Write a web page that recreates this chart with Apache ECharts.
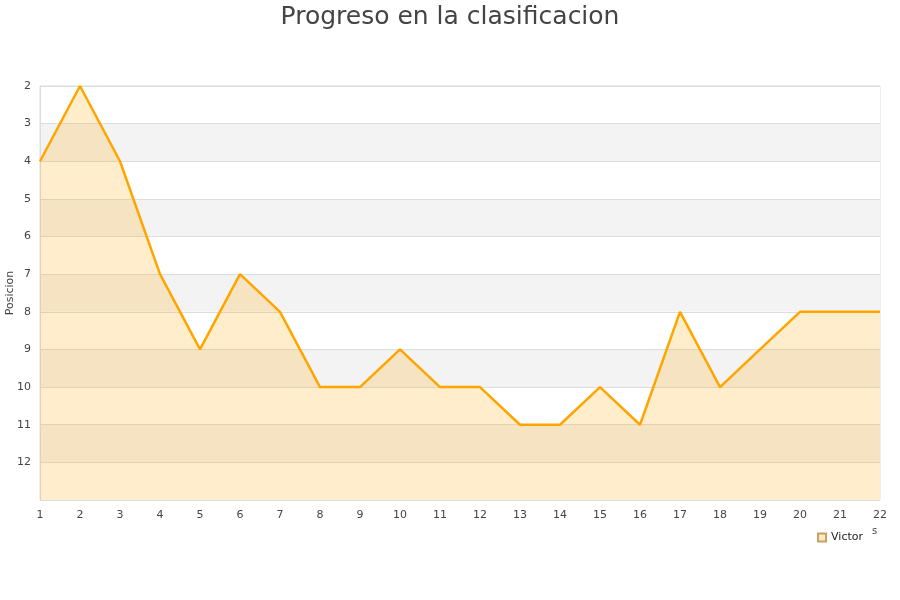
<!DOCTYPE html>
<html><head><meta charset="utf-8">
<script src="https://cdn.jsdelivr.net/npm/echarts@6/dist/echarts.min.js"></script>
<style>html,body{margin:0;padding:0;background:#fff}#c{width:900px;height:600px}</style>
</head><body><div id="c"></div>
<script>
const jornadas = [1,2,3,4,5,6,7,8,9,10,11,12,13,14,15,16,17,18,19,20,21,22];
const posiciones = [4,2,4,7,9,7,8,10,10,9,10,10,11,11,10,11,8,10,9,8,8,8];
const chart = echarts.init(document.getElementById('c'));
chart.setOption({
  animation: false,
  title: { text: 'Progreso en la clasificacion', left: 'center', top: 0,
    textStyle: { fontFamily: 'DejaVu Sans', fontSize: 25, fontWeight: 'normal', color: '#444' } },
  grid: { left: 40, right: 20, top: 86, bottom: 100, show: true, borderColor: '#ddd', borderWidth: 1,
    backgroundColor: 'transparent', outerBoundsMode: 'none', containLabel: false },
  legend: { data: ['Victor'], right: 32, top: 527, icon: 'rect', itemWidth: 8, itemHeight: 8, itemGap: 6,
    textStyle: { fontFamily: 'DejaVu Sans', fontSize: 11, color: '#222' } },
  xAxis: { type: 'value', min: 1, max: 22, interval: 1,
    axisLine: { show: false }, axisTick: { show: false }, splitLine: { show: false },
    axisLabel: { fontFamily: 'DejaVu Sans', fontSize: 11, color: '#444', margin: 10 } },
  yAxis: { type: 'value', inverse: true, min: 2, max: 13, interval: 1,
    name: 'Posicion', nameLocation: 'middle', nameGap: 24, nameRotate: 90, nameMoveOverlap: false,
    nameTextStyle: { fontFamily: 'DejaVu Sans', fontSize: 11, color: '#444' },
    axisLine: { show: true, lineStyle: { color: '#ddd' } }, axisTick: { show: false },
    axisLabel: { fontFamily: 'DejaVu Sans', fontSize: 11, color: '#444', margin: 9,
      formatter: v => v === 13 ? '' : String(v) },
    splitLine: { show: true, lineStyle: { color: '#ddd' } },
    splitArea: { show: true, areaStyle: { color: ['#ffffff', '#f3f3f3'] } } },
  graphic: [{ type: 'text', left: 872, top: 526, style: { text: 's', fontFamily: 'DejaVu Sans', fontSize: 10, fill: '#444' } }],
  series: [{ name: 'Victor', type: 'line', data: jornadas.map((j, i) => [j, posiciones[i]]),
    symbol: 'none', lineStyle: { color: '#ffa500', width: 2.5 },
    itemStyle: { color: '#ffebc8', borderColor: '#c8a060', borderWidth: 1 },
    areaStyle: { color: 'rgba(255,165,0,0.2)', opacity: 1, origin: 'end' } }]
});
</script></body></html>
